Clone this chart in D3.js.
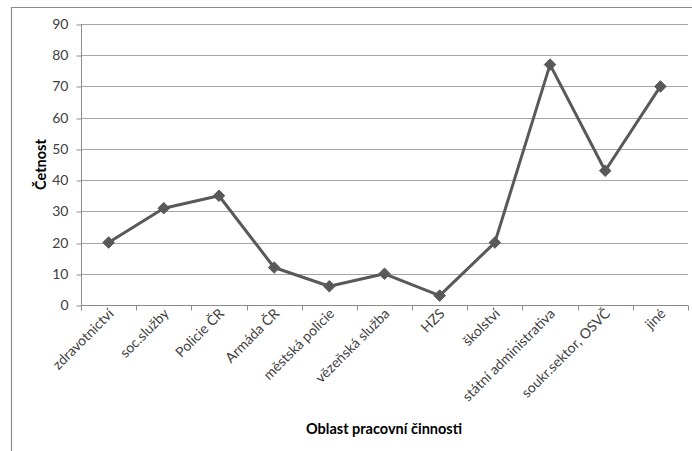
<!DOCTYPE html>
<html><head><meta charset="utf-8">
<script src="https://cdn.jsdelivr.net/npm/d3@7"></script>
<style>body{margin:0;background:#fff}svg{display:block}text{font-family:Lato,"Open Sans",sans-serif}</style>
</head><body>
<svg id="c" width="692" height="451"></svg>
<script>
const categories = ["zdravotnictví","soc.služby","Policie ČR","Armáda ČR","městská policie","vězeňská služba","HZS","školství","státní administrativa","soukr.sektor, OSVČ","jiné"];
const values = [20,31,35,12,6,10,3,20,77,43,70];
const yTicks = [0,10,20,30,40,50,60,70,80,90];
const yTitle = "Četnost";
const xTitle = "Oblast pracovní činnosti";

const svg = d3.select("#c");
const m = {l:81, r:4, t:24, b:146};
const W = 692, H = 451;
const x = d3.scaleBand().domain(categories).range([m.l, W - m.r]).padding(0);
const y = d3.scaleLinear().domain([0,90]).range([H - m.b, m.t]);

// outer frame
svg.append("path").attr("d", `M11.5,451 L11.5,7.5 L692,7.5`).attr("fill","none").attr("stroke","#8c8c8c").attr("stroke-width",1.2);

// gridlines
svg.append("g").selectAll("line").data(yTicks.filter(d=>d>0)).join("line")
  .attr("x1", m.l).attr("x2", W - m.r)
  .attr("y1", d=>Math.round(y(d))+0.5).attr("y2", d=>Math.round(y(d))+0.5)
  .attr("stroke","#a6a6a6").attr("stroke-width",1);

// y axis
const ya = svg.append("g").attr("transform",`translate(${m.l+0.5},0)`)
  .call(d3.axisLeft(y).tickValues(yTicks).tickSize(5).tickPadding(8).tickFormat(d3.format("d")));
ya.select(".domain").attr("stroke","#8c8c8c").attr("d",`M-0,${y(90)}V${y(0)}`);
ya.selectAll(".tick line").attr("stroke","#8c8c8c").attr("transform", d=>`translate(0,${Math.round(y(d))+0.5 - y(d)})`);
ya.selectAll(".tick text").attr("font-size",14).attr("fill","#404040").attr("font-family","Lato, 'Open Sans', sans-serif");

// x axis
const xa = svg.append("g").attr("transform",`translate(0,${Math.round(y(0))+0.5})`);
xa.append("line").attr("x1",m.l).attr("x2",W-m.r).attr("stroke","#8c8c8c");
const bounds = categories.map(c=>x(c)).concat([x(categories[categories.length-1])+x.bandwidth()]);
xa.selectAll("line.t").data(bounds).join("line").attr("class","t")
  .attr("x1",d=>Math.round(d)+0.5).attr("x2",d=>Math.round(d)+0.5).attr("y1",0).attr("y2",5).attr("stroke","#8c8c8c");
xa.selectAll("text").data(categories).join("text")
  .attr("transform", d=>`translate(${x(d)+x.bandwidth()/2+6},${9}) rotate(-45)`)
  .attr("text-anchor","end").attr("font-size",14).attr("fill","#404040").text(d=>d);

// line
const lineGen = d3.line().x((d,i)=>x(categories[i])+x.bandwidth()/2).y(d=>y(d));
svg.append("path").datum(values).attr("d",lineGen).attr("fill","none").attr("stroke","#595959").attr("stroke-width",3).attr("stroke-linejoin","round");

// markers
svg.append("g").selectAll("path").data(values).join("path")
  .attr("transform",(d,i)=>`translate(${x(categories[i])+x.bandwidth()/2},${y(d)})`)
  .attr("d", d3.symbol().type(d3.symbolDiamond2).size(85))
  .attr("fill","#595959").attr("stroke","#595959").attr("stroke-width",1);

// titles
svg.append("text").attr("transform",`translate(46,${(y(0)+y(90))/2}) rotate(-90)`)
  .attr("text-anchor","middle").attr("font-size",14.5).attr("font-weight","bold").attr("fill","#000").text(yTitle);
svg.append("text").attr("x",384).attr("y",434).attr("text-anchor","middle")
  .attr("font-size",14.5).attr("font-weight","bold").attr("fill","#000").text(xTitle);
</script>
</body></html>
